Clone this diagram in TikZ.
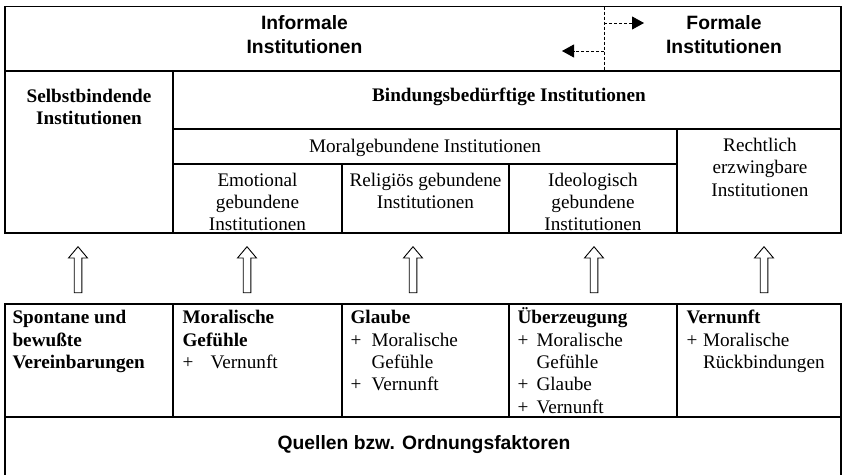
\documentclass[tikz,border=0pt]{standalone}
\usepackage{fontspec}
\setmainfont{Liberation Serif}
\newfontfamily\sansf{Liberation Sans}
\usetikzlibrary{arrows.meta}
\newcommand\plusw[1]{\makebox[#1][l]{+}}
\begin{document}
\begin{tikzpicture}[x=1pt,y=-1pt,line width=1.1pt,
  ser/.style={inner sep=0pt,font=\fontsize{19.2}{22.3}\selectfont},
  serb/.style={inner sep=0pt,font=\fontsize{19.2}{22.3}\selectfont\bfseries},
  sansb/.style={inner sep=0pt,font=\fontsize{19.3}{24}\selectfont\sansf\bfseries},
  dashln/.style={line width=0.8pt,dash pattern=on 3pt off 2pt},
  uparr/.pic={\draw[line width=0.9pt,fill=white] (-3.8,46) -- (-3.8,11.3) -- (-9.5,11.3) -- (0,0) -- (9.5,11.3) -- (3.8,11.3) -- (3.8,46) -- cycle;}
]
\clip (0,0) rectangle (842,474);
\fill[white] (0,0) rectangle (842,474);
% top band
\draw (5,6.5) rectangle (841,71);
% upper block
\draw (5,71) rectangle (173,233);
\draw (173,71) rectangle (841,129);
\draw (173,129) rectangle (677,164);
\draw (677,129) rectangle (841,233);
\draw (173,164) rectangle (342,233);
\draw (342,164) rectangle (509,233);
\draw (509,164) rectangle (677,233);
% lower block
\draw (5,304) rectangle (173,417);
\draw (173,304) rectangle (342,417);
\draw (342,304) rectangle (509,417);
\draw (509,304) rectangle (677,417);
\draw (677,304) rectangle (841,417);
\draw (5,417) -- (5,480);
\draw (841,417) -- (841,480);
% dashed divider and arrows
\coordinate (dtop) at (604,6.5);
\coordinate (dbot) at (604,71);
\draw[dashln] (dtop) -- (dbot);
\coordinate (r0) at (604,23);
\coordinate (r1) at (644,23);
\coordinate (l0) at (604,51);
\coordinate (l1) at (562,51);
\draw[dashln,-{Triangle[length=12pt,width=13pt]}] (r0) -- (r1);
\draw[dashln,-{Triangle[length=12pt,width=13pt]}] (l0) -- (l1);
% texts
\node[sansb,align=center] (inf) at (304.5,35) {Informale\\Institutionen};
\node[sansb,align=center] (form) at (724,35) {Formale\\Institutionen};
\node[serb,align=center] (selbst) at (89,107) {Selbstbindende\\Institutionen};
\node[serb,anchor=base] (bind) at (509,101.4) {Bindungsbedürftige Institutionen};
\node[ser,anchor=base] (moral) at (425,152.4) {Moralgebundene Institutionen};
\node[ser,align=center] (recht) at (760,167.2) {Rechtlich\\erzwingbare\\Institutionen};
\node[ser,align=center] (emot) at (257.5,201.9) {Emotional\\gebundene\\Institutionen};
\node[ser,align=center] (relig) at (425.5,190.9) {Religiös gebundene\\Institutionen};
\node[ser,align=center] (ideo) at (593,201.9) {Ideologisch\\gebundene\\Institutionen};
\node[ser,align=left,anchor=north west] (q1) at (12,307.4) {\rule{0pt}{16pt}\textbf{Spontane und}\\\textbf{bewußte}\\\textbf{Vereinbarungen}};
\node[ser,align=left,anchor=north west] (q2) at (182,307.4) {\rule{0pt}{16pt}\textbf{Moralische}\\\textbf{Gefühle}\\\plusw{28pt}Vernunft};
\node[ser,align=left,anchor=north west] (q3) at (350,307.4) {\rule{0pt}{16pt}\textbf{Glaube}\\\plusw{21pt}Moralische\\\hspace*{21pt}Gefühle\\\plusw{21pt}Vernunft};
\node[ser,align=left,anchor=north west] (q4) at (517,307.4) {\rule{0pt}{16pt}\textbf{Überzeugung}\\\plusw{19pt}Moralische\\\hspace*{19pt}Gefühle\\\plusw{19pt}Glaube\\\plusw{19pt}Vernunft};
\node[ser,align=left,anchor=north west] (q5) at (686,307.4) {\rule{0pt}{16pt}\textbf{Vernunft}\\\plusw{16.5pt}Moralische\\\hspace*{16.5pt}Rückbindungen};
\node[sansb,anchor=base] (quel) at (424,449) {Quellen bzw. Ordnungsfaktoren};
% block arrows from sources up to institutions
\coordinate (a1) at (78,246.7);
\coordinate (a2) at (247,246.7);
\coordinate (a3) at (413,246.7);
\coordinate (a4) at (594,246.7);
\coordinate (a5) at (764,246.7);
\foreach \c in {a1,a2,a3,a4,a5} \pic at (\c) {uparr};
\end{tikzpicture}
\end{document}
